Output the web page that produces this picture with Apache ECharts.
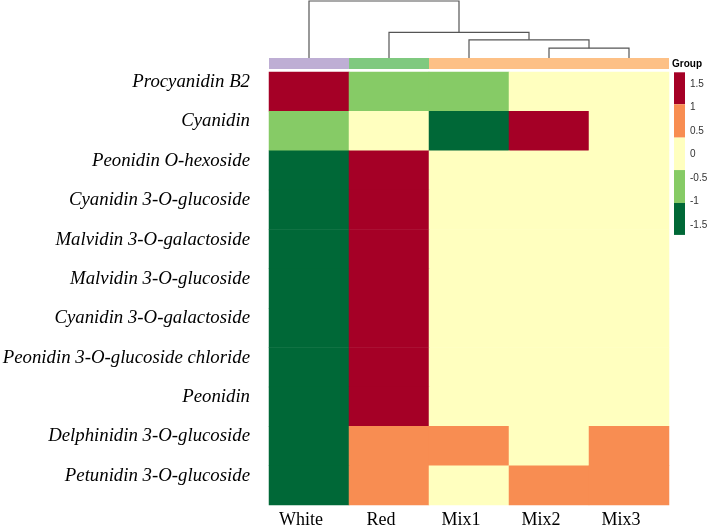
<!DOCTYPE html>
<html><head><meta charset="utf-8">
<script src="https://cdn.jsdelivr.net/npm/echarts@6/dist/echarts.min.js"></script>
<style>html,body{margin:0;padding:0;background:#fff}#c{width:708px;height:527px}</style>
</head><body><div id="c"></div>
<script>
// ---- data ----
const columns = ['White', 'Red', 'Mix1', 'Mix2', 'Mix3'];
const rowNames = [
  'Procyanidin B2', 'Cyanidin', 'Peonidin O-hexoside', 'Cyanidin 3-O-glucoside',
  'Malvidin 3-O-galactoside', 'Malvidin 3-O-glucoside', 'Cyanidin 3-O-galactoside',
  'Peonidin 3-O-glucoside chloride', 'Peonidin', 'Delphinidin 3-O-glucoside', 'Petunidin 3-O-glucoside'
];
const procyanidinB2 = [1.65, -0.75, -0.70, -0.10, -0.10];
const cyanidin = [-0.60, 0.20, -1.30, 1.50, 0.20];
const peonidinOHex = [-1.55, 1.60, 0.00, -0.02, -0.03];
const cyanidin3Glc = [-1.55, 1.58, 0.01, -0.02, -0.02];
const malvidin3Gal = [-1.56, 1.57, 0.00, 0.00, -0.01];
const malvidin3Glc = [-1.55, 1.59, -0.02, 0.00, -0.02];
const cyanidin3Gal = [-1.57, 1.58, 0.00, 0.00, -0.01];
const peonidin3GlcCl = [-1.56, 1.59, -0.01, -0.01, -0.01];
const peonidin = [-1.55, 1.60, -0.02, -0.01, -0.02];
const delphinidin3Glc = [-1.65, 0.60, 0.50, 0.05, 0.50];
const petunidin3Glc = [-1.65, 0.55, 0.20, 0.45, 0.45];
const rowValues = [procyanidinB2, cyanidin, peonidinOHex, cyanidin3Glc, malvidin3Gal,
  malvidin3Glc, cyanidin3Gal, peonidin3GlcCl, peonidin, delphinidin3Glc, petunidin3Glc];

const groups = ['White', 'Red', 'Mix', 'Mix', 'Mix'];
const groupColors = { White: '#BEAED4', Red: '#7FC97F', Mix: '#FDC086' };

// hclust-style merges: negative = leaf (1-based column), positive = earlier merge; third = height
const dendroMerges = [[-4, -5, 1.0], [-3, 1, 1.85], [-2, 2, 2.6], [-1, 3, 5.8]];

const legendTicks = [1.5, 1, 0.5, 0, -0.5, -1, -1.5];
const legendBreaks = [1.75, 1.07, 0.36, -0.33, -1.03, -1.71];
const legendColors = ['#A50026', '#F88D52', '#FFFFBF', '#86CB66', '#006837'];

// ---- build ----
const heatData = [];
rowValues.forEach((vals, r) => vals.forEach((v, c) => heatData.push([c, r, v])));

const pieces = legendColors.map((col, i) => {
  const p = { color: col };
  if (i > 0) p.lte = legendBreaks[i];
  if (i < legendColors.length - 1) p.gt = legendBreaks[i + 1];
  return p;
});

const nodePos = [], nodeH = [];
const dendroData = dendroMerges.map((m, i) => {
  const get = k => k < 0 ? [(-k - 1) + 0.5, 0] : [nodePos[k - 1], nodeH[k - 1]];
  const a = get(m[0]), b = get(m[1]);
  nodePos[i] = (a[0] + b[0]) / 2; nodeH[i] = m[2];
  return [a[0], a[1], b[0], b[1], m[2]];
});

const groupData = groups.map((g, i) => [i, 0, g]);

// legend graphics
const lgTop = 72.3, lgPxPerUnit = 47, lgX = 674;
const lgY = v => lgTop + (legendBreaks[0] - v) * lgPxPerUnit;
const graphics = [{ type: 'text', left: 672, top: 59, style: { text: 'Group', font: 'bold 10px "Liberation Sans", Arial', fill: '#000' } }];
legendColors.forEach((col, i) => {
  graphics.push({ type: 'rect', shape: { x: lgX, y: lgY(legendBreaks[i]), width: 11, height: lgY(legendBreaks[i + 1]) - lgY(legendBreaks[i]) }, style: { fill: col } });
});
legendTicks.forEach(t => {
  graphics.push({ type: 'text', x: 690, y: lgY(t), style: { text: String(t), font: '10px "Liberation Sans", Arial', fill: '#333', verticalAlign: 'middle' } });
});

const chart = echarts.init(document.getElementById('c'), null, { renderer: 'canvas' });
chart.setOption({
  backgroundColor: '#fff',
  animation: false,
  grid: [
    { left: 269, top: 72, width: 400, height: 433, outerBoundsMode: 'none', containLabel: false },
    { left: 269, top: 58, width: 400, height: 11, outerBoundsMode: 'none', containLabel: false },
    { left: 269, top: 0, width: 400, height: 58, outerBoundsMode: 'none', containLabel: false }
  ],
  xAxis: [
    { type: 'category', data: columns, gridIndex: 0, position: 'bottom',
      axisLine: { show: false }, axisTick: { show: false }, splitLine: { show: false },
      axisLabel: { fontFamily: 'Liberation Serif', fontSize: 18, color: '#000', margin: 6, padding: [0, 16, 0, 0] } },
    { type: 'category', data: columns, gridIndex: 1, show: false },
    { type: 'value', min: 0, max: columns.length, gridIndex: 2, show: false }
  ],
  yAxis: [
    { type: 'category', data: rowNames, gridIndex: 0, inverse: true,
      axisLine: { show: false }, axisTick: { show: false }, splitLine: { show: false },
      axisLabel: { fontFamily: 'Liberation Serif', fontStyle: 'italic', fontSize: 18.8, color: '#000', margin: 19, verticalAlign: 'bottom' } },
    { type: 'category', data: ['Group'], gridIndex: 1, show: false },
    { type: 'value', min: 0, max: 5.9, gridIndex: 2, show: false }
  ],
  visualMap: { type: 'piecewise', show: false, seriesIndex: 0, pieces: pieces },
  graphic: graphics,
  series: [
    { type: 'heatmap', xAxisIndex: 0, yAxisIndex: 0, data: heatData, itemStyle: { borderWidth: 0 }, emphasis: { disabled: true } },
    { type: 'custom', xAxisIndex: 1, yAxisIndex: 1, data: groupData, encode: { x: 0, y: 1 },
      renderItem: (params, api) => {
        const p = api.coord([api.value(0), api.value(1)]);
        const s = api.size([1, 1]);
        return { type: 'rect', shape: { x: p[0] - s[0] / 2, y: p[1] - s[1] / 2, width: s[0], height: s[1] },
          style: { fill: groupColors[groups[params.dataIndex]] } };
      } },
    { type: 'custom', xAxisIndex: 2, yAxisIndex: 2, data: dendroData, encode: { x: [0, 2], y: [1, 3, 4] },
      renderItem: (params, api) => {
        const pts = [
          api.coord([api.value(0), api.value(1)]), api.coord([api.value(0), api.value(4)]),
          api.coord([api.value(2), api.value(4)]), api.coord([api.value(2), api.value(3)])
        ];
        return { type: 'polyline', shape: { points: pts }, style: { stroke: '#555', lineWidth: 1.2, fill: null } };
      } }
  ]
});
</script></body></html>
